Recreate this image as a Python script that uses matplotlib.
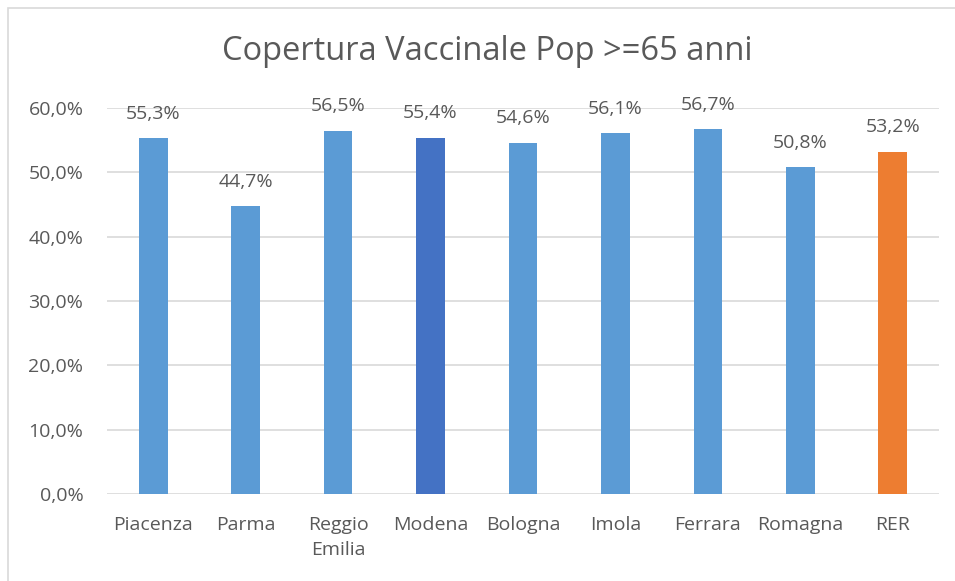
import matplotlib.pyplot as plt
from matplotlib.patches import Rectangle

categorie = ['Piacenza', 'Parma', 'Reggio\nEmilia', 'Modena', 'Bologna', 'Imola', 'Ferrara', 'Romagna', 'RER']
copertura = [55.3, 44.7, 56.5, 55.4, 54.6, 56.1, 56.7, 50.8, 53.2]
colori = ['#5B9BD5', '#5B9BD5', '#5B9BD5', '#4472C4', '#5B9BD5', '#5B9BD5', '#5B9BD5', '#5B9BD5', '#ED7D31']
yticks = [0, 10, 20, 30, 40, 50, 60]

plt.rcParams['font.family'] = ['Open Sans', 'DejaVu Sans']
grigio = '#595959'

fig = plt.figure(figsize=(9.55, 5.81), dpi=100)
ax = fig.add_axes([107 / 955, 1 - 494 / 581, 832 / 955, 386 / 581])

x = range(len(categorie))
ax.bar(x, copertura, width=0.31, color=colori, zorder=3)
for xi, v in zip(x, copertura):
    ax.text(xi, v + 2.4, f'{v:.1f}%'.replace('.', ','), ha='center', va='bottom',
            fontsize=14, color=grigio)

ax.set_xlim(-0.5, len(categorie) - 0.5)
ax.set_ylim(0, 60)
ax.set_yticks(yticks)
ax.set_yticklabels([f'{t:.1f}%'.replace('.', ',') for t in yticks], fontsize=14, color=grigio)
ax.set_xticks(list(x))
ax.set_xticklabels(categorie, fontsize=14, color=grigio, linespacing=1.5, va='top')
ax.tick_params(axis='y', length=0, pad=17)
ax.tick_params(axis='x', length=0, pad=16)
ax.grid(axis='y', color='#D9D9D9', linewidth=1.2, zorder=0)
for s in ax.spines.values():
    s.set_visible(False)

fig.text(487 / 955, 1 - 52 / 581, 'Copertura Vaccinale Pop >=65 anni', ha='center', va='center',
         fontsize=23.5, color=grigio)

fig.patches.append(Rectangle((8 / 955, -0.01), 1.0, 1 - 8 / 581 + 0.01, transform=fig.transFigure,
                             fill=False, edgecolor='#D9D9D9', linewidth=1.2))

fig.savefig('out.png', dpi=100)
